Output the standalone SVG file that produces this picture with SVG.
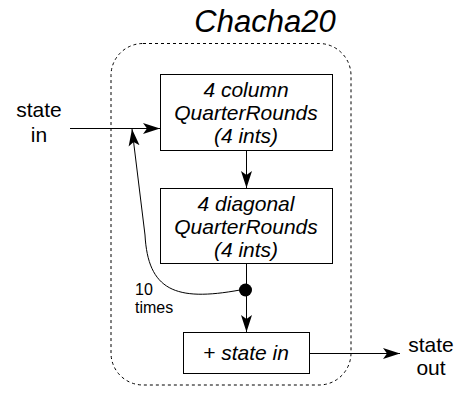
<svg xmlns="http://www.w3.org/2000/svg" width="462" height="398" viewBox="0 0 462 398">
  <style>
    text { font-family: "Liberation Sans", Arial, sans-serif; fill: #000; }
    .box { fill: #fff; stroke: #000; stroke-width: 1; }
    .lbl { font-size: 21px; font-style: italic; text-anchor: middle; }
    .io { font-size: 21px; text-anchor: middle; }
    .wire { fill: none; stroke: #000; stroke-width: 1; }
  </style>
  <defs>
    <marker id="arrow" markerUnits="userSpaceOnUse" markerWidth="18" markerHeight="12" refX="17" refY="6" orient="auto">
      <path d="M0,0.5 L17,6 L0,11.5 L4,6 Z" fill="#000"/>
    </marker>
  </defs>

  <rect width="462" height="398" fill="#fff"/>

  <!-- enclosing cipher boundary -->
  <g id="chacha20">
    <rect x="111" y="43.5" width="240" height="341.5" rx="32" ry="32" fill="none" stroke="#000" stroke-width="1" stroke-dasharray="3,3"/>
    <text x="265" y="32" font-size="31" font-style="italic" text-anchor="middle">Chacha20</text>
  </g>

  <g id="column-rounds">
    <rect class="box" x="160.5" y="74.5" width="172" height="76"/>
    <text class="lbl" x="246" y="97">4 column</text>
    <text class="lbl" x="246" y="120">QuarterRounds</text>
    <text class="lbl" x="246" y="143">(4 ints)</text>
  </g>

  <g id="diagonal-rounds">
    <rect class="box" x="160.5" y="188.5" width="172" height="75"/>
    <text class="lbl" x="246" y="211">4 diagonal</text>
    <text class="lbl" x="246" y="234">QuarterRounds</text>
    <text class="lbl" x="246" y="257">(4 ints)</text>
  </g>

  <g id="add-state">
    <rect class="box" x="183.5" y="332.5" width="126" height="41"/>
    <text class="lbl" x="246" y="360">+ state in</text>
  </g>

  <g id="state-in">
    <text class="io" x="39" y="117">state</text>
    <text class="io" x="39" y="142">in</text>
  </g>

  <g id="state-out">
    <text class="io" x="431" y="352">state</text>
    <text class="io" x="431" y="375">out</text>
  </g>

  <g id="loop-label">
    <text x="135" y="295" font-size="16">10</text>
    <text x="135" y="313" font-size="16">times</text>
  </g>

  <g id="connectors">
    <path class="wire" d="M70,128.5 L160,128.5" marker-end="url(#arrow)"/>
    <path class="wire" d="M246.5,150.5 L246.5,188" marker-end="url(#arrow)"/>
    <path class="wire" d="M246.5,263.5 L246.5,290"/>
    <path class="wire" d="M246.5,290 L246.5,332" marker-end="url(#arrow)"/>
    <path class="wire" d="M240,290 C175,302 148,290 145,235 L132,129" marker-end="url(#arrow)"/>
    <path class="wire" d="M309.5,353.5 L400,353.5" marker-end="url(#arrow)"/>
    <circle cx="245.5" cy="290" r="6.5" fill="#000"/>
  </g>
</svg>
